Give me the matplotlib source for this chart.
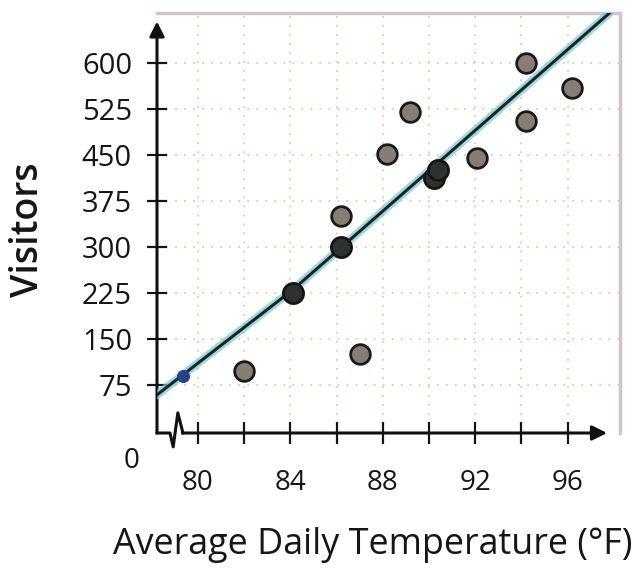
import matplotlib
matplotlib.use("Agg")
import matplotlib.pyplot as plt

plt.rcParams['font.family'] = ['Open Sans', 'DejaVu Sans']

# temperature (F) and visitors
temp = [82.0, 86.2, 87.0, 88.2, 89.2, 92.1, 94.2, 94.2, 96.2]
visitors = [97, 350, 125, 452, 520, 445, 600, 505, 560]

# points that sit on the drawn line (look darker)
temp_on_line = [84.1, 86.2, 90.2, 90.4]
visitors_on_line = [225, 300, 412, 425]

# small pen dot on the line
pen_x = [79.35]
pen_y = [90]

# hand drawn line of fit
fit_x = [78.2, 84.1, 97.8]
fit_y = [58, 230, 681]

xticks = [80, 82, 84, 86, 88, 90, 92, 94, 96]
xlabels = ['80', '', '84', '', '88', '', '92', '', '96']
yticks = [75, 150, 225, 300, 375, 450, 525, 600]

fig = plt.figure(figsize=(6.37, 5.69), dpi=100)
ax = fig.add_axes([157/637, 136/569, 463/637, 420/569])
ax.set_xlim(78.23, 98.27)
ax.set_ylim(-3.3, 681.5)

for s in ['left', 'bottom']:
    ax.spines[s].set_visible(False)
for s in ['top', 'right']:
    ax.spines[s].set_color('#d2c5c8')
    ax.spines[s].set_linewidth(2.5)

ax.set_xticks(xticks)
ax.set_xticklabels(xlabels)
ax.set_yticks(yticks)
ax.tick_params(axis='x', direction='inout', length=16, width=1.6, pad=18,
               labelsize=20, colors='#161616')
ax.tick_params(axis='y', direction='inout', length=14, width=1.6, pad=11,
               labelsize=21, colors='#161616')
ax.grid(True, color='#e2cba8', linestyle=(0, (1, 4)), linewidth=1.3)

# axes with arrows
ax.annotate('', xy=(0, 0.98), xytext=(0, 0), xycoords='axes fraction',
            arrowprops=dict(arrowstyle='-|>', color='#111111', lw=2.2,
                            mutation_scale=22, shrinkA=0, shrinkB=0))
ax.plot([0, 0.028, 0.035, 0.045, 0.056], [0, 0, -0.033, 0.048, 0],
        transform=ax.transAxes, color='#111111', lw=2.2, clip_on=False)
ax.annotate('', xy=(0.972, 0), xytext=(0.055, 0), xycoords='axes fraction',
            arrowprops=dict(arrowstyle='-|>', color='#111111', lw=2.2,
                            mutation_scale=22, shrinkA=0, shrinkB=0))
ax.text(-0.054, -0.067, '0', transform=ax.transAxes, fontsize=20,
        ha='center', va='center', color='#161616')

# line of fit
ax.plot(fit_x, fit_y, color='#7cc6c6', lw=6, alpha=0.7, solid_capstyle='round', zorder=3)
ax.plot(fit_x, fit_y, color='#15262a', lw=2.2, zorder=4)
ax.scatter(pen_x, pen_y, s=70, color='#27408a', zorder=5)

ax.scatter(temp, visitors, s=200, facecolor='#847e75', edgecolor='#1a1a1a',
           linewidth=2, zorder=5)
ax.scatter(temp_on_line, visitors_on_line, s=210, facecolor='#2e322e',
           edgecolor='#141414', linewidth=2, zorder=5)

fig.text(113/637, 1 - 545/569, 'Average Daily Temperature (°F)', fontsize=25.8,
         ha='left', va='center', color='#161616')
ax.set_ylabel('Visitors', fontsize=27, fontweight='semibold', color='#161616')
ax.yaxis.set_label_coords(-0.238, 0.483)

fig.savefig('out.png', dpi=100)
